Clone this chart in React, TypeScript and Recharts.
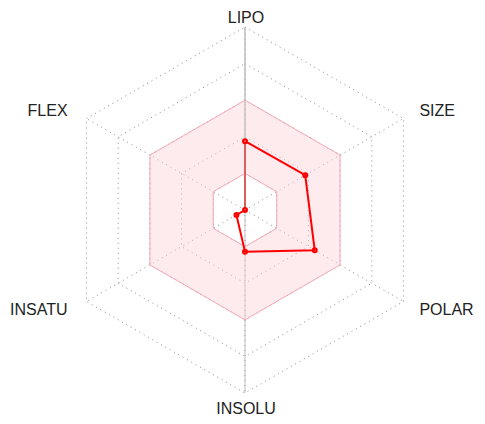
import React from 'react';
import { RadarChart, Radar, PolarGrid, PolarAngleAxis, PolarRadiusAxis } from 'recharts';

const axes = ['LIPO', 'SIZE', 'POLAR', 'INSOLU', 'INSATU', 'FLEX'];
const optimalLow = [1, 1, 1, 1, 1, 1];
const optimalHigh = [3, 3, 3, 3, 3, 3];
const compound = [1.88, 1.9, 2.2, 1.14, 0.27, 0];

const data = axes.map((name, i) => ({
  name,
  range: [optimalLow[i], optimalHigh[i]],
  value: compound[i],
}));

const CX = 245;
const CY = 210;

const AxisLabel = (props: any) => {
  const { x, y, payload, textAnchor } = props;
  const dist = Math.hypot(x - CX, y - CY) || 1;
  const uy = (y - CY) / dist;
  let dx = 1;
  if (textAnchor === 'start') dx = 9;
  if (textAnchor === 'end') dx = -12;
  let dy = uy < 0 ? -4 : 4;
  if (uy < -0.9) dy = -2;
  if (uy > 0.9) dy = 7;
  return (
    <text
      x={x + dx}
      y={y + dy}
      textAnchor={textAnchor}
      dominantBaseline="central"
      fontSize={16}
      fill="#222"
      fontFamily="'Liberation Sans', Arial, sans-serif"
    >
      {payload.value}
    </text>
  );
};

export default function App() {
  return (
    <div style={{ position: 'absolute', left: 0, top: 0, background: '#fff' }}>
      <RadarChart width={485} height={424} data={data} cx={CX} cy={CY} outerRadius={183}>
        <PolarGrid stroke="#8a8a8a" strokeDasharray="1 4" />
        <PolarGrid
          stroke="#bdbdbd"
          strokeDasharray="none"
          polarAngles={[90, 270]}
          polarRadius={[0]}
        />
        <PolarAngleAxis dataKey="name" tick={<AxisLabel />} tickLine={false} axisLine={false} />
        <PolarRadiusAxis
          angle={90}
          domain={[0, 5]}
          tickCount={6}
          tick={false}
          axisLine={{ stroke: '#bdbdbd', strokeWidth: 1 }}
        />
        <Radar
          dataKey="range"
          stroke="#f6a9b7"
          strokeWidth={1}
          fill="#fbd3da"
          fillOpacity={0.45}
          isAnimationActive={false}
        />
        <Radar
          dataKey="value"
          stroke="#ff0000"
          strokeWidth={2}
          fill="none"
          fillOpacity={0}
          dot={{ r: 2, fill: '#ff0000', stroke: '#ff0000' }}
          isAnimationActive={false}
        />
      </RadarChart>
    </div>
  );
}
